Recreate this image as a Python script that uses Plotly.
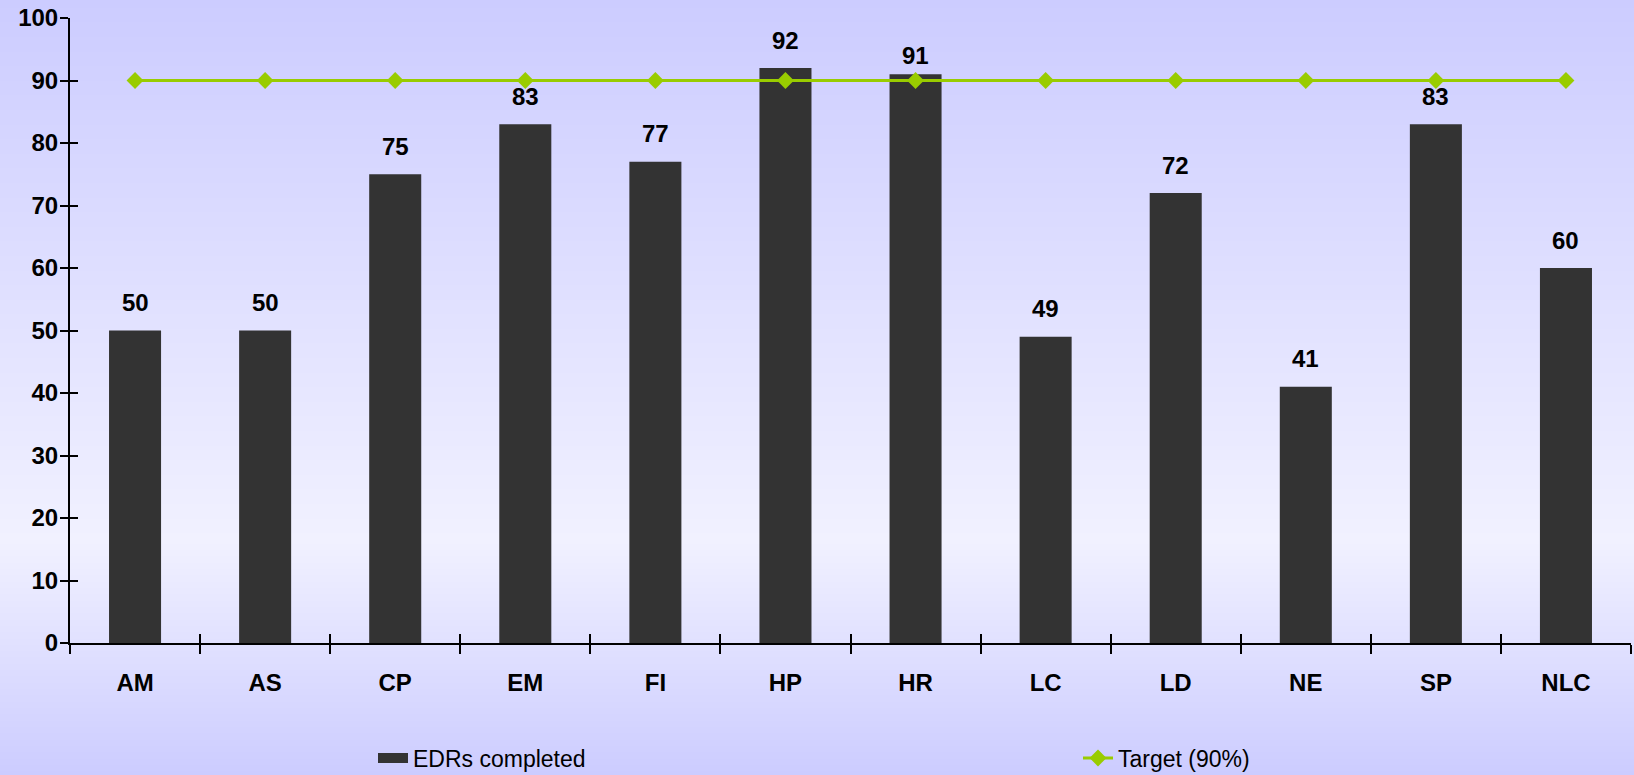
import zlib, struct, base64
import plotly.graph_objects as go

# ---- data ----
categories = ["AM", "AS", "CP", "EM", "FI", "HP", "HR", "LC", "LD", "NE", "SP", "NLC"]
edrs_completed = [50, 50, 75, 83, 77, 92, 91, 49, 72, 41, 83, 60]
target = [90] * 12
y_ticks = [0, 10, 20, 30, 40, 50, 60, 70, 80, 90, 100]

BAR_COLOR = "#333333"
LINE_COLOR = "#99CC00"
FONT = "Liberation Sans, Arial, sans-serif"

W, H = 1634, 775
ML, MR, MT, MB = 70, 3, 18, 132
PW, PH = W - ML - MR, H - MT - MB


def gradient_png(rows):
    raw = b"".join(b"\x00" + bytes(c) for c in rows)

    def chunk(t, d):
        c = struct.pack(">I", len(d)) + t + d
        return c + struct.pack(">I", zlib.crc32(t + d) & 0xFFFFFFFF)

    ihdr = struct.pack(">IIBBBBB", 1, len(rows), 8, 2, 0, 0, 0)
    png = (b"\x89PNG\r\n\x1a\n" + chunk(b"IHDR", ihdr)
           + chunk(b"IDAT", zlib.compress(raw)) + chunk(b"IEND", b""))
    return "data:image/png;base64," + base64.b64encode(png).decode()


rows = []
peak = 540
for py in range(H):
    if py <= peak:
        v = 204 + (241 - 204) * py / peak
    else:
        v = 241 - (241 - 204) * (py - peak) / (H - 1 - peak)
    v = int(round(v))
    rows.append((v, v, 255))
bg = gradient_png(rows)

fig = go.Figure()

fig.add_trace(go.Bar(
    x=categories, y=edrs_completed, name="EDRs completed",
    marker=dict(color=BAR_COLOR, line=dict(width=0)), width=0.4,
    showlegend=False, hoverinfo="x+y",
))
fig.add_trace(go.Scatter(
    x=categories, y=target, name="Target (90%)", mode="lines+markers",
    line=dict(color=LINE_COLOR, width=3),
    marker=dict(symbol="diamond", size=13, color=LINE_COLOR),
    showlegend=False,
))
# legend entries
fig.add_trace(go.Scatter(
    x=[categories[0]], y=[None], name="EDRs completed", mode="lines",
    line=dict(color=BAR_COLOR, width=16), legend="legend",
))
fig.add_trace(go.Scatter(
    x=[categories[0]], y=[None], name="Target (90%)", mode="lines+markers",
    line=dict(color=LINE_COLOR, width=3),
    marker=dict(symbol="diamond", size=13, color=LINE_COLOR), legend="legend2",
))
# helpers for the inner half of the crossing ticks
fig.add_trace(go.Scatter(x=[categories[0]], y=[None], xaxis="x2", yaxis="y",
                         showlegend=False, hoverinfo="skip"))
fig.add_trace(go.Scatter(x=[categories[0]], y=[None], xaxis="x", yaxis="y2",
                         showlegend=False, hoverinfo="skip"))

label_nudge = {"HR": -9}
for c, v in zip(categories, edrs_completed):
    fig.add_annotation(
        x=c, y=v, text=str(v), showarrow=False, yanchor="middle",
        yshift=28 + label_nudge.get(c, 0),
        font=dict(family=FONT, size=24, color="#000000", weight="bold"),
    )

fig.add_layout_image(dict(
    source=bg, xref="paper", yref="paper",
    x=-ML / PW, y=1 + MT / PH, sizex=W / PW, sizey=H / PH,
    xanchor="left", yanchor="top", sizing="stretch", layer="below",
))

axis_font = dict(family=FONT, size=24, color="#000000", weight="bold")
legend_common = dict(
    orientation="h", xanchor="left", yanchor="middle",
    y=-(758 - (MT + PH)) / PH, bgcolor="rgba(0,0,0,0)",
    font=dict(family=FONT, size=23, color="#000000"),
)
fig.update_layout(
    width=W, height=H,
    margin=dict(l=ML, r=MR, t=MT, b=MB, pad=0, autoexpand=False),
    paper_bgcolor="#DADAFF", plot_bgcolor="rgba(0,0,0,0)",
    font=dict(family=FONT, color="#000000"),
    bargap=0.6,
    xaxis=dict(
        type="category", categoryorder="array", categoryarray=categories,
        range=[-0.5, len(categories) - 0.5],
        showline=True, linecolor="#000000", linewidth=2,
        ticks="outside", ticklen=9, tickwidth=2, tickcolor="#000000",
        tickson="boundaries", tickfont=axis_font, ticklabelstandoff=17,
        showgrid=False, zeroline=False, fixedrange=True,
    ),
    xaxis2=dict(
        type="category", categoryorder="array", categoryarray=categories,
        range=[-0.5, len(categories) - 0.5], overlaying="x", anchor="y",
        showline=False, ticks="inside", ticklen=9, tickwidth=2,
        tickcolor="#000000", tickson="boundaries", showticklabels=False,
        showgrid=False, zeroline=False, fixedrange=True,
    ),
    yaxis=dict(
        range=[0, 100], tickvals=y_ticks,
        showline=True, linecolor="#000000", linewidth=2,
        ticks="outside", ticklen=8, tickwidth=2, tickcolor="#000000",
        tickfont=axis_font, ticklabelstandoff=-3,
        showgrid=False, zeroline=False, fixedrange=True,
    ),
    yaxis2=dict(
        range=[0, 100], tickvals=y_ticks, overlaying="y", anchor="x",
        showline=False, ticks="inside", ticklen=8, tickwidth=2,
        tickcolor="#000000", showticklabels=False,
        showgrid=False, zeroline=False, fixedrange=True,
    ),
    legend=dict(legend_common, x=(373 - ML) / PW),
    legend2=dict(legend_common, x=(1078 - ML) / PW),
    showlegend=True,
)

fig.write_html("out.html")
